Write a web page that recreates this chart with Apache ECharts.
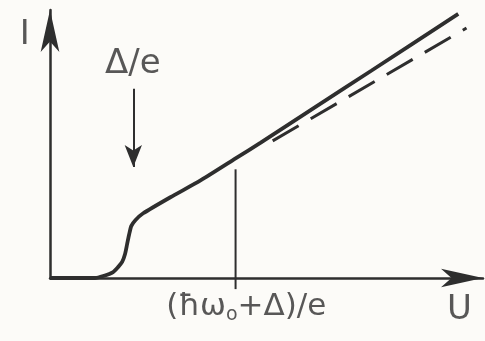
<!DOCTYPE html>
<html>
<head>
<meta charset="utf-8">
<script src="https://cdn.jsdelivr.net/npm/echarts@6/dist/echarts.min.js"></script>
<style>
  html, body { margin: 0; padding: 0; background: #fcfbf8; }
  #chart { width: 485px; height: 341px; }
</style>
</head>
<body>
<div id="chart"></div>
<script>
// Tunnel current I versus bias voltage U (arbitrary units)
const ivCurve = [
  [0.00, 0.00], [1.09, 0.00], [1.29, 0.08], [1.53, 0.24], [1.65, 0.44],
  [1.75, 0.65], [1.82, 0.97], [1.87, 1.37], [1.92, 1.77], [1.97, 2.10],
  [2.07, 2.34], [2.26, 2.62], [2.92, 3.27], [3.65, 3.95], [4.50, 4.84],
  [5.11, 5.48], [6.45, 6.94], [7.79, 8.39], [9.90, 10.69]
];
// Straight-line continuation of the linear branch
const extrapolation = [[5.40, 5.55], [10.10, 10.12]];
// Threshold (ħω0 + Δ)/e marker
const thresholdU = 4.5;
const thresholdMarker = [[thresholdU, -0.45], [thresholdU, 4.40]];
// Gap arrow Δ/e: from top to tip
const gapArrow = [[2.02, 7.66], [2.02, 4.49]];
// Text annotations: [U, I, text]
const annotations = [
  [-0.61, 9.85, 'I'],
  [2.01, 8.66, 'Δ/e'],
  [4.76, -1.17, '{a|(ħω}{s|o}{a|+Δ)/e}'],
  [9.93, -1.30, 'U']
];

const ink = '#2e2e2e';
const chart = echarts.init(document.getElementById('chart'), null, { renderer: 'canvas' });

chart.setOption({
  backgroundColor: '#fcfbf8',
  animation: false,
  grid: { left: 50, right: 2, top: 10, bottom: 63 },
  xAxis: {
    type: 'value', min: 0, max: 10.5,
    axisLine: { show: true, symbol: ['none', 'arrow'], symbolSize: [14, 42], lineStyle: { color: ink, width: 2.5 } },
    axisTick: { show: false }, axisLabel: { show: false }, splitLine: { show: false }
  },
  yAxis: {
    type: 'value', min: 0, max: 10.85,
    axisLine: { show: true, symbol: ['none', 'arrow'], symbolSize: [14, 42], lineStyle: { color: ink, width: 2.5 } },
    axisTick: { show: false }, axisLabel: { show: false }, splitLine: { show: false }
  },
  series: [
    {
      type: 'line', data: extrapolation, showSymbol: false, clip: false, z: 2,
      lineStyle: { color: ink, width: 3, type: [30, 14] }
    },
    {
      type: 'line', data: ivCurve, smooth: 0.2, showSymbol: false, clip: false, z: 3,
      lineStyle: { color: ink, width: 3.8 }
    },
    {
      type: 'line', data: thresholdMarker, showSymbol: false, clip: false, z: 3,
      lineStyle: { color: ink, width: 2 }
    },
    {
      type: 'line', data: [], clip: false, z: 3,
      markLine: {
        silent: true, symbol: ['none', 'arrow'], symbolSize: [13, 22],
        label: { show: false },
        lineStyle: { color: ink, width: 2, type: 'solid' },
        data: [[{ coord: gapArrow[0] }, { coord: gapArrow[1] }]]
      }
    },
    {
      type: 'scatter', symbolSize: 0, clip: false, z: 4,
      data: annotations.map(a => ({ value: [a[0], a[1]], name: a[2] })),
      label: {
        show: true, position: 'inside', color: ink,
        fontFamily: 'DejaVu Sans', fontSize: 34,
        formatter: p => p.name,
        rich: {
          a: { fontFamily: 'DejaVu Sans', fontSize: 31, color: ink },
          s: { fontFamily: 'DejaVu Sans', fontSize: 19, color: ink, padding: [16, 0, 0, 0] }
        }
      }
    }
  ]
});
</script>
</body>
</html>
